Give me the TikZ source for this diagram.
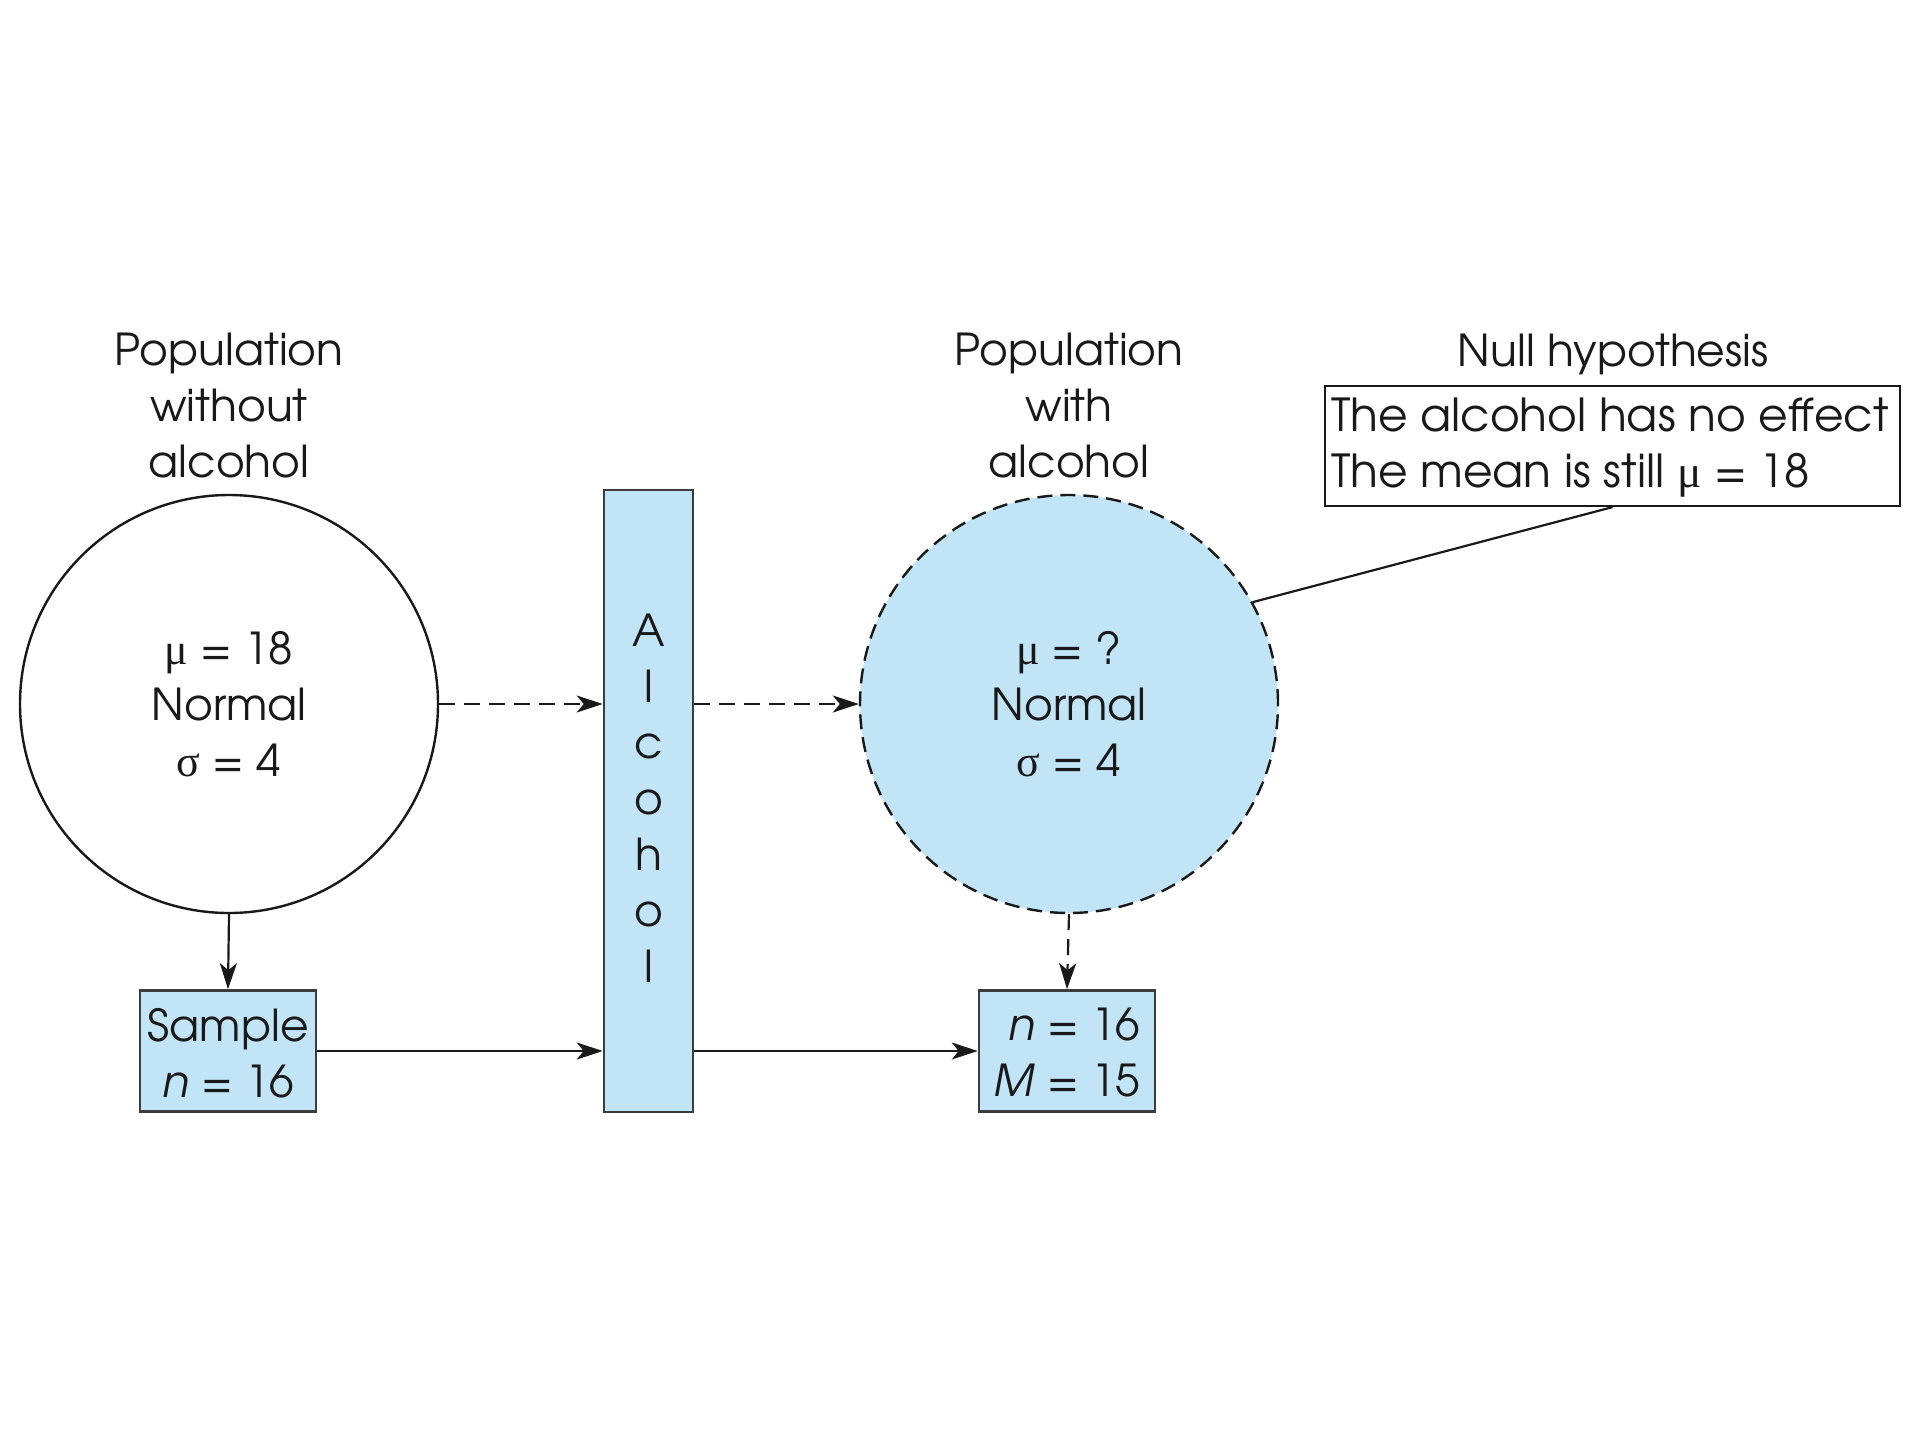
\documentclass[tikz,border=0pt]{standalone}
\usepackage{fontspec}
\setmainfont{TeX Gyre Adventor}
\newfontfamily\grk{Liberation Serif}
\usetikzlibrary{arrows.meta}
\definecolor{popblue}{RGB}{194,228,247}
\definecolor{ink}{RGB}{25,25,25}

\begin{document}
\begin{tikzpicture}[x=1pt,y=-1pt,
  every node/.style={font=\fontsize{44}{56}\selectfont, text=ink, inner sep=0pt},
  pop/.style={circle, draw=ink, line width=2.4pt, minimum size=418pt},
  bluebox/.style={draw=ink!85, fill=popblue, line width=2.6pt},
  link/.style={draw=ink, line width=2.2pt, -{Stealth[length=26pt,width=17pt,inset=7pt]}},
  dashlink/.style={link, dash pattern=on 16pt off 9pt},
  txt/.style={align=center}
]
\useasboundingbox (0,0) rectangle (1920,1440);
\fill[white] (0,0) rectangle (1920,1440);

% population without alcohol
\node[txt] (two) at (229,406) {Population\\without\\alcohol};
\node[pop] (pwo) at (229,704) {};
\node[txt] (pwotext) at (pwo) {{\grk μ} = 18\\Normal\\{\grk σ} = 4};

% treatment bar
\node[bluebox, minimum width=89pt, minimum height=622pt] (bar) at (648.5,801) {};
\node[txt] (bartext) at (648.5,798) {A\\l\\c\\o\\h\\o\\l};

% population with alcohol
\node[txt] (tw) at (1069,406) {Population\\with\\alcohol};
\node[pop, fill=popblue, dash pattern=on 15pt off 8pt] (pw) at (1069,704) {};
\node[txt] (pwtext) at (pw) {{\grk μ} = ?\\Normal\\{\grk σ} = 4};

% samples
\node[bluebox, minimum width=176pt, minimum height=121pt] (samp) at (228,1051) {};
\node[txt] (samptext) at (228,1053) {Sample\\\textit{n} = 16};
\node[bluebox, minimum width=176pt, minimum height=121pt] (res) at (1067,1051) {};
\node[align=right] (restext) at (1067,1053) {\textit{n} = 16\\\textit{M} = 15};

% null hypothesis
\node (nht) at (1613,354) {Null hypothesis};
\node[draw=ink, line width=2.2pt, minimum width=575pt, minimum height=120pt] (nh) at (1612.5,446) {};
\node[align=left, anchor=west, font=\fontsize{45.5}{56}\selectfont] (nhtext) at (1331,448) {The alcohol has no effect\\The mean is still {\grk μ} = 18};

% connectors
\draw[link] (pwo.south) -- (samp.north);
\draw[dashlink] (pwo.east) -- (bar.west |- pwo.east);
\draw[dashlink] (bar.east |- pw.west) -- (pw.west);
\draw[dashlink] (pw.south) -- (res.north);
\draw[link] (samp.east) -- (bar.west |- samp.east);
\draw[link] (bar.east |- res.west) -- (res.west);
\draw[ink, line width=2.2pt] (nh.south) -- (pw.29);
\end{tikzpicture}
\end{document}
